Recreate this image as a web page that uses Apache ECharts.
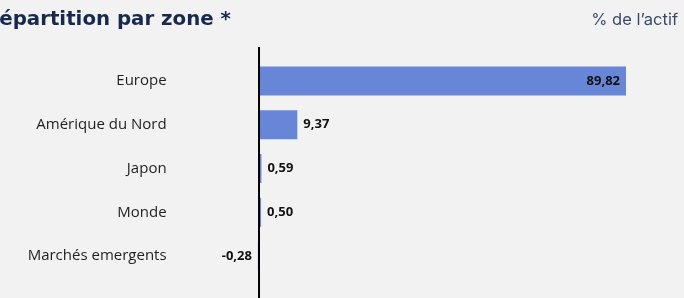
<!DOCTYPE html>
<html>
<head>
<meta charset="utf-8">
<script src="https://cdn.jsdelivr.net/npm/echarts@6/dist/echarts.min.js"></script>
<style>
  html, body { margin: 0; padding: 0; background: #f2f2f2; }
  #chart { width: 684px; height: 298px; }
</style>
</head>
<body>
<div id="chart"></div>
<script>
const zones = ['Europe', 'Amérique du Nord', 'Japon', 'Monde', 'Marchés emergents']
const weights = [89.82, 9.37, 0.59, 0.50, -0.28]

const chart = echarts.init(document.getElementById('chart'))

chart.setOption({
  backgroundColor: '#f2f2f2',
  animation: false,
  title: {
    text: '% de l\u2019actif',
    right: 1,
    top: 7,
    textStyle: { fontFamily: 'Inter', fontWeight: 'normal', fontSize: 16.5, color: '#3b4a66' }
  },
  grid: {
    left: 238.6,
    right: 16.4,
    top: 59,
    bottom: 20
  },
  xAxis: {
    type: 'value',
    min: -5,
    max: 100,
    show: false
  },
  yAxis: {
    type: 'category',
    inverse: true,
    data: zones,
    axisLine: { show: false },
    axisTick: { show: false },
    axisLabel: {
      margin: 72,
      fontFamily: 'Open Sans',
      fontSize: 15,
      color: '#1f1f1f'
    }
  },
  series: [{
    type: 'bar',
    data: weights,
    barWidth: 29,
    itemStyle: { color: '#6886d8' },
    label: {
      show: true,
      distance: 6,
      fontFamily: 'Open Sans',
      fontWeight: 'bold',
      fontSize: 13,
      color: '#111',
      formatter: p => p.value.toFixed(2).replace('.', ','),
      position: 'right'
    }
  }]
})

// labels: big bar inside, negative on the left
chart.setOption({
  series: [{
    data: weights.map((v, i) => {
      if (i === 0) return { value: v, label: { position: 'insideRight' } }
      if (v < 0) return { value: v, label: { position: 'left' } }
      return v
    })
  }]
})

// cut-off title + vertical zero line, taller than the grid
const x0 = chart.convertToPixel({ xAxisIndex: 0 }, 0)
chart.setOption({
  graphic: [{
    type: 'text',
    x: -16,
    y: 10,
    style: {
      text: 'Répartition par zone *',
      font: 'bold 19.8px "DejaVu Sans"',
      fill: '#17294d'
    }
  }, {
    type: 'line',
    shape: { x1: x0, y1: 47, x2: x0, y2: 298 },
    style: { stroke: '#000', lineWidth: 2 },
    z: 10
  }]
})
</script>
</body>
</html>
